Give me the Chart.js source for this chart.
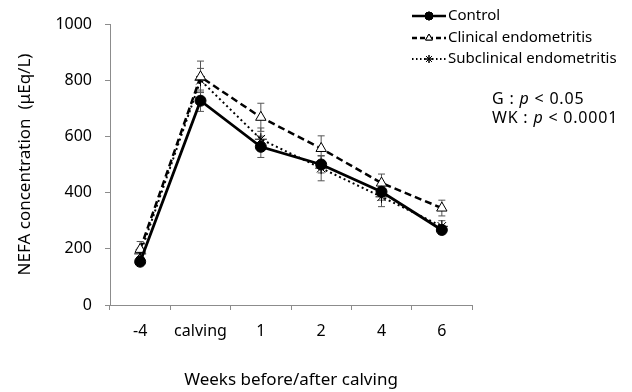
<!DOCTYPE html>
<html>
<head>
<meta charset="utf-8">
<script src="https://cdn.jsdelivr.net/npm/chart.js@4"></script>
<style>
  html, body { margin: 0; padding: 0; background: #fff; }
  #wrap { width: 632px; height: 392px; position: relative; }
</style>
</head>
<body>
<div id="wrap"><canvas id="c"></canvas></div>
<script>
const WEEKS = ['-4', 'calving', '1', '2', '4', '6'];
const CONTROL = [154, 727, 563, 500, 403, 267];
const CONTROL_ERR = [10, 38, 38, 30, 30, 15];
const CLINICAL = [198, 812, 668, 557, 434, 345];
const CLINICAL_ERR = [28, 56, 50, 45, 32, 28];
const SUBCLIN = [182, 800, 590, 487, 385, 280];
const SUBCLIN_ERR = [20, 42, 40, 45, 35, 20];
const Y_TICKS = [0, 200, 400, 600, 800, 1000];

const FONT = '"Noto Sans", sans-serif';
const AXIS = '#8c8c8c';

const errs = [CONTROL_ERR, CLINICAL_ERR, SUBCLIN_ERR];

// error bars under the markers
const errorBars = {
  id: 'errorBars',
  beforeDatasetsDraw(chart) {
    const ctx = chart.ctx, y = chart.scales.y;
    ctx.save();
    ctx.strokeStyle = '#555';
    ctx.lineWidth = 1;
    chart.data.datasets.forEach((ds, i) => {
      chart.getDatasetMeta(i).data.forEach((pt, j) => {
        const v = ds.data[j], e = errs[i][j];
        const top = y.getPixelForValue(v + e), bot = y.getPixelForValue(v - e);
        ctx.beginPath();
        ctx.moveTo(pt.x, top); ctx.lineTo(pt.x, bot);
        ctx.moveTo(pt.x - 3.5, top); ctx.lineTo(pt.x + 3.5, top);
        ctx.moveTo(pt.x - 3.5, bot); ctx.lineTo(pt.x + 3.5, bot);
        ctx.stroke();
      });
    });
    ctx.restore();
  }
};

// legend + stats note, top right
const legendNote = {
  id: 'legendNote',
  afterDraw(chart) {
    const ctx = chart.ctx;
    ctx.save();
    ctx.font = '15px ' + FONT;
    ctx.textBaseline = 'middle';
    ctx.fillStyle = '#000';
    const rows = [
      { text: 'Control', y: 16, dash: [], lw: 2.5, style: 'circle', fill: '#000', r: 4 },
      { text: 'Clinical endometritis', y: 38, dash: [5, 3], lw: 2.5, style: 'triangle', fill: '#fff', r: 4 },
      { text: 'Subclinical endometritis', y: 59, dash: [1.5, 2.5], lw: 2, style: 'star', fill: '#fff', r: 4 },
    ];
    rows.forEach(r => {
      ctx.strokeStyle = '#000';
      ctx.lineWidth = r.lw;
      ctx.setLineDash(r.dash);
      ctx.beginPath(); ctx.moveTo(412, r.y); ctx.lineTo(446, r.y); ctx.stroke();
      ctx.setLineDash([]);
      ctx.lineWidth = 1;
      ctx.fillStyle = r.fill;
      Chart.helpers.drawPoint(ctx, { pointStyle: r.style, radius: r.r, borderWidth: 1 }, 429, r.y);
      if (r.style !== 'star') ctx.fill();
      ctx.stroke();
      ctx.fillStyle = '#000';
      ctx.fillText(r.text, 448, r.y);
    });
    ctx.letterSpacing = '0.8px';
    const note = (x, y, a, b) => {
      ctx.font = '16px ' + FONT;
      ctx.fillText(a, x, y);
      x += ctx.measureText(a).width;
      ctx.font = 'italic 16px ' + FONT;
      ctx.fillText('p', x, y);
      x += ctx.measureText('p').width;
      ctx.font = '16px ' + FONT;
      ctx.fillText(b, x, y);
    };
    note(492, 99, 'G : ', ' < 0.05');
    note(492, 118, 'WK : ', ' < 0.0001');
    ctx.restore();
  }
};

new Chart(document.getElementById('c'), {
  type: 'line',
  data: {
    labels: WEEKS,
    datasets: [
      { label: 'Control', data: CONTROL, borderColor: '#000', backgroundColor: '#000',
        borderWidth: 2.8, pointStyle: 'circle', pointRadius: 5.5, pointBorderWidth: 1 },
      { label: 'Clinical endometritis', data: CLINICAL, borderColor: '#000', backgroundColor: '#fff',
        borderWidth: 2.5, borderDash: [7, 4], pointStyle: 'triangle', pointRadius: 6, pointBorderWidth: 1 },
      { label: 'Subclinical endometritis', data: SUBCLIN, borderColor: '#000', backgroundColor: '#fff',
        borderWidth: 2, borderDash: [2, 3], pointStyle: 'star', pointRadius: 6, pointBorderWidth: 1 },
    ]
  },
  options: {
    responsive: true, maintainAspectRatio: false, animation: false,
    layout: { padding: { top: 24, right: 160, left: 0, bottom: 2 } },
    plugins: { legend: { display: false }, tooltip: { enabled: false } },
    scales: {
      x: {
        offset: true,
        afterFit: s => { s.height = 85; },
        grid: { offset: true, drawOnChartArea: false, color: AXIS, tickLength: 5 },
        border: { color: AXIS },
        ticks: { color: '#000', font: { family: FONT, size: 16 }, padding: 12 },
        title: { display: true, text: 'Weeks before/after calving', color: '#000',
          font: { family: FONT, size: 17 }, padding: { top: 28, bottom: 0 } }
      },
      y: {
        min: 0, max: 1000,
        afterBuildTicks: s => { s.ticks = Y_TICKS.map(v => ({ value: v })); },
        afterFit: s => { s.width = 110; },
        grid: { drawOnChartArea: false, color: AXIS, tickLength: 5 },
        border: { color: AXIS },
        ticks: { color: '#000', font: { family: FONT, size: 16 }, padding: 13,
          callback: v => String(v) },
        title: { display: true, text: 'NEFA concentration  (μEq/L)', color: '#000',
          font: { family: FONT, size: 17 }, padding: { top: 15, bottom: 0 } }
      }
    }
  },
  plugins: [errorBars, legendNote]
});
</script>
</body>
</html>
